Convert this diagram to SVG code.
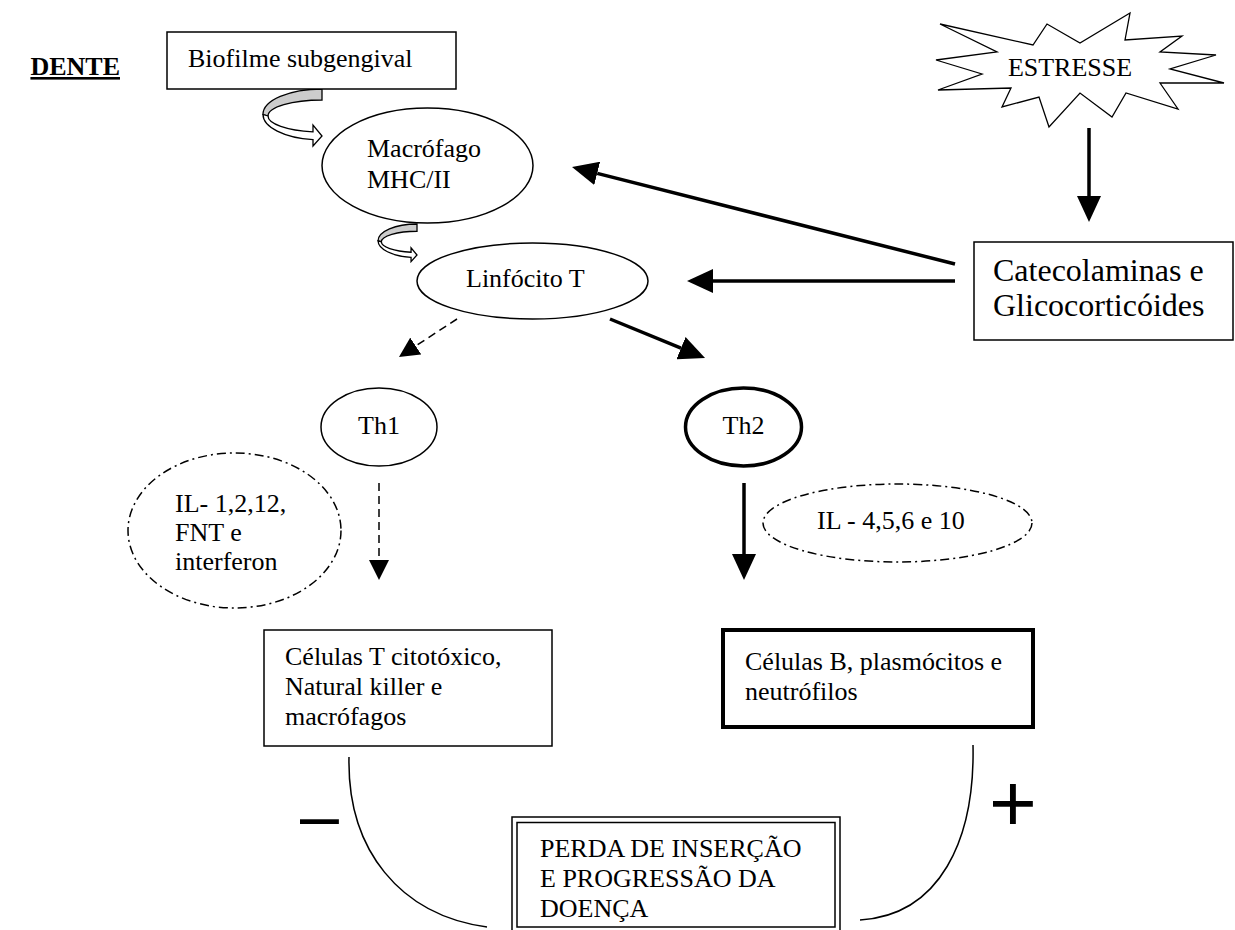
<svg xmlns="http://www.w3.org/2000/svg" xmlns:xlink="http://www.w3.org/1999/xlink" width="1235" height="930" viewBox="0 0 1235 930">
<style>
  .t { font-family: "Liberation Serif", "Times New Roman", serif; font-size: 26px; fill: #000; }
  .big { font-family: "Liberation Serif", "Times New Roman", serif; font-size: 32px; fill: #000; }
  .sym { font-family: "Liberation Sans", Arial, sans-serif; fill: #000; }
  .box { fill: #fff; stroke: #000; stroke-width: 1.5; }
  .thickbox { fill: #fff; stroke: #000; stroke-width: 4; }
  .ell { fill: #fff; stroke: #000; stroke-width: 1.5; }
  .ellthick { fill: #fff; stroke: #000; stroke-width: 3.5; }
  .dashdot { fill: none; stroke: #000; stroke-width: 1.5; stroke-dasharray: 9 4 2 4; }
  .solid { fill: none; stroke: #000; stroke-width: 3.5; }
  .dashed { fill: none; stroke: #000; stroke-width: 1.5; stroke-dasharray: 8 5; }
  .curve { fill: none; stroke: #000; stroke-width: 1.5; }
</style>
<defs>
  <marker id="headBig" markerUnits="userSpaceOnUse" markerWidth="26" markerHeight="24" viewBox="0 0 26 24" refX="0" refY="12" orient="auto">
    <path d="M0,0 L26,12 L0,24 Z" fill="#000"/>
  </marker>
  <marker id="headSmall" markerUnits="userSpaceOnUse" markerWidth="20" markerHeight="20" viewBox="0 0 20 20" refX="0" refY="10" orient="auto">
    <path d="M0,0 L20,10 L0,20 Z" fill="#000"/>
  </marker>
  <g id="curvedArrow">
    <path d="M0,0 A59,25.5 0 0 0 -59,25.5 L-54,27 A54,16 0 0 1 0,11 Z" fill="#cccccc" stroke="#000" stroke-width="1.3" vector-effect="non-scaling-stroke"/>
    <path d="M-59,25.5 A59,25.5 0 0 0 -9,50.7 L-9,57 L0,47 L-9,36 L-9,42.8 A54,16 0 0 1 -54,27 Z" fill="#fff" stroke="#000" stroke-width="1.3" vector-effect="non-scaling-stroke"/>
  </g>
</defs>
<rect width="1235" height="930" fill="#fff"/>

<g id="title">
  <text class="t" x="120" y="75" text-anchor="end" font-weight="bold" text-decoration="underline">DENTE</text>
</g>

<g id="connectors">
  <use xlink:href="#curvedArrow" href="#curvedArrow" transform="translate(322,89)"/>
  <use xlink:href="#curvedArrow" href="#curvedArrow" transform="translate(417,224) scale(0.66)"/>
  <line class="solid" x1="955" y1="264" x2="597.2" y2="173.4" marker-end="url(#headBig)"/>
  <line class="solid" x1="955" y1="281" x2="713" y2="281" marker-end="url(#headBig)"/>
  <line class="solid" x1="1089" y1="128" x2="1089" y2="196" marker-end="url(#headBig)"/>
  <line class="solid" x1="610" y1="319" x2="681" y2="348.1" marker-end="url(#headBig)"/>
  <line class="solid" x1="744" y1="483" x2="744" y2="554" stroke-width="3" marker-end="url(#headBig)"/>
  <line class="dashed" x1="457" y1="319" x2="415.7" y2="346" marker-end="url(#headSmall)"/>
  <line class="dashed" x1="379" y1="483" x2="379" y2="560" marker-end="url(#headSmall)"/>
  <path class="curve" d="M349,757 C347,850 400,915 487,927"/>
  <path class="curve" d="M973,745 C975,840 940,915 860,920"/>
</g>

<g id="biofilme">
  <rect class="box" x="167" y="32" width="289" height="57"/>
  <text class="t" x="188" y="67">Biofilme subgengival</text>
</g>

<g id="macrofago">
  <ellipse class="ell" cx="427.5" cy="165.5" rx="105.5" ry="57.5"/>
  <text class="t" x="367" y="157">Macrófago</text>
  <text class="t" x="367" y="188">MHC/II</text>
</g>

<g id="linfocito">
  <ellipse class="ell" cx="532.5" cy="281" rx="115.5" ry="38"/>
  <text class="t" x="466" y="287">Linfócito T</text>
</g>

<g id="estresse">
  <polygon points="940,24 1033,45 1047,24 1080,43 1130,13 1125,40 1182,36 1160,52 1216,55 1170,69 1224,83 1160,83 1178,109 1126,93 1112,117 1080,93 1049,127 1039,97 1002,107 1011,88 938,90 982,74 936,60 997,52" fill="#fff" stroke="#000" stroke-width="1.3" stroke-linejoin="miter"/>
  <text class="t" x="1070" y="76" text-anchor="middle">ESTRESSE</text>
</g>

<g id="catecolaminas">
  <rect class="box" x="974" y="242" width="259" height="98"/>
  <text class="big" x="993" y="281">Catecolaminas e</text>
  <text class="big" x="993" y="316">Glicocorticóides</text>
</g>

<g id="th1">
  <ellipse class="ell" cx="379" cy="427" rx="58" ry="39"/>
  <text class="t" x="379" y="434" text-anchor="middle">Th1</text>
</g>

<g id="th2">
  <ellipse class="ellthick" cx="743.5" cy="427" rx="58" ry="39"/>
  <text class="t" x="743.5" y="434" text-anchor="middle">Th2</text>
</g>

<g id="il-th1">
  <ellipse class="dashdot" cx="234.5" cy="530.5" rx="106.5" ry="77.5"/>
  <text class="t" x="175" y="512">IL- 1,2,12,</text>
  <text class="t" x="175" y="541">FNT e</text>
  <text class="t" x="175" y="570">interferon</text>
</g>

<g id="il-th2">
  <ellipse class="dashdot" cx="897.5" cy="523" rx="134.5" ry="39"/>
  <text class="t" x="817" y="529">IL - 4,5,6 e 10</text>
</g>

<g id="celulas-t">
  <rect class="box" x="264" y="630" width="288" height="116"/>
  <text class="t" x="285" y="665">Células T citotóxico,</text>
  <text class="t" x="285" y="695">Natural killer e</text>
  <text class="t" x="285" y="725">macrófagos</text>
</g>

<g id="celulas-b">
  <rect class="thickbox" x="723" y="630" width="310" height="97"/>
  <text class="t" x="745" y="670">Células B, plasmócitos e</text>
  <text class="t" x="745" y="700">neutrófilos</text>
</g>

<g id="perda">
  <rect x="512" y="817" width="328" height="120" fill="#fff" stroke="#000" stroke-width="1.5"/>
  <rect x="517" y="822.5" width="318" height="104.5" fill="none" stroke="#000" stroke-width="1.5"/>
  <text class="t" x="540" y="857">PERDA DE INSERÇÃO</text>
  <text class="t" x="540" y="887">E PROGRESSÃO DA</text>
  <text class="t" x="540" y="917">DOENÇA</text>
</g>

<g id="signs">
  <text class="sym" x="300" y="840" font-size="70">–</text>
  <text class="sym" x="989" y="831" font-size="82">+</text>
</g>
</svg>
